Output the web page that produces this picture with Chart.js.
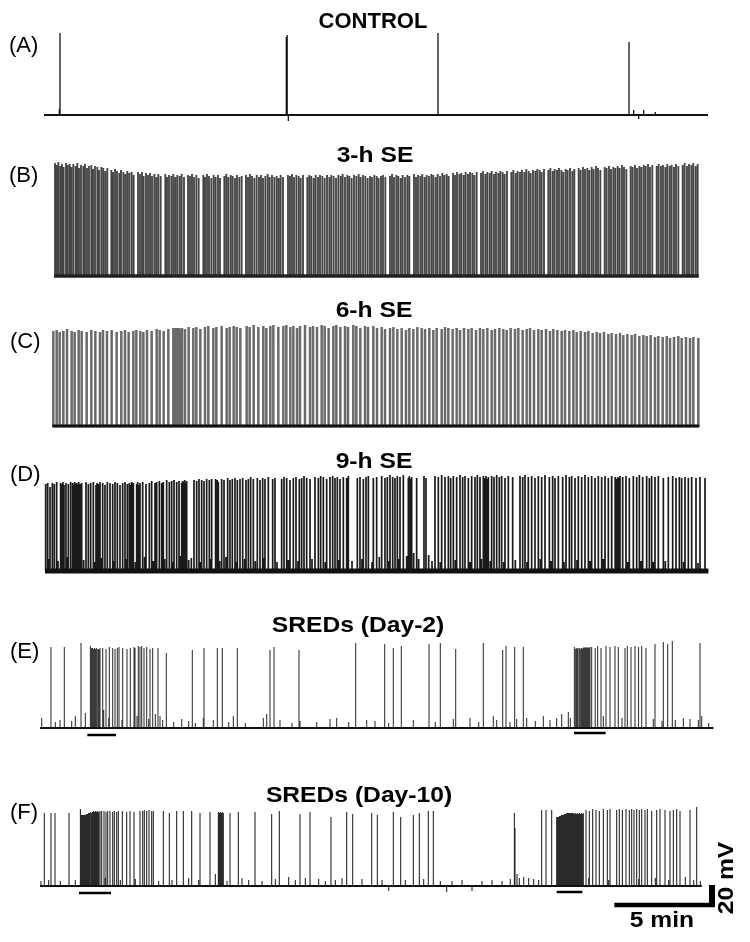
<!DOCTYPE html>
<html><head><meta charset="utf-8">
<script src="https://cdn.jsdelivr.net/npm/chart.js@4.4.1/dist/chart.umd.min.js"></script>
<style>
html,body{margin:0;padding:0;background:#fff;}
#fig{position:relative;width:750px;height:942px;overflow:hidden;background:#fff;}
#fig canvas{position:absolute;left:0;}
.t{position:absolute;font-family:"Liberation Sans",Arial,sans-serif;font-weight:bold;font-size:22px;line-height:22px;white-space:nowrap;color:#000;}
.l{position:absolute;font-family:"Liberation Sans",Arial,sans-serif;font-size:22px;line-height:22px;white-space:nowrap;color:#000;}
</style></head><body><div id="fig"></div>
<script>
// ===== DATA (time in s, potential in mV relative to baseline) =====
const titles = ["CONTROL","3-h SE","6-h SE","9-h SE","SREDs (Day-2)","SREDs (Day-10)"];
const panelLabels = ["(A)","(B)","(C)","(D)","(E)","(F)"];
const scaleBarValues = [5, 20];           // 5 min, 20 mV
const scaleBarTexts = ["5 min","20 mV"];

const spanA = [6, 1998];
const spikesA = [[52,6],[54,82],[733,78],[735,80],[736,30],[739,-6],[1188,82],[1761,73],[1775,5],[1790,-4],[1805,5],[1840,3]];

const spanB = [36, 1970];
const spikesB = [[39,113],[44,111],[49,114],[55,110],[60,112],[65,109],[72,113],[77,111],[83,112],[88,109],[94,112],[101,110],[106,113],[111,108],[117,111],[124,110],[129,112],[135,108],[141,110],[148,111],[153,107],[159,110],[166,109],[171,106],[178,109],[184,108],[190,105],[196,108],[208,106],[213,104],[219,107],[225,105],[232,103],[237,106],[244,104],[250,102],[256,105],[262,103],[269,104],[275,101],[288,104],[294,102],[300,104],[305,100],[312,103],[318,101],[324,103],[330,100],[337,102],[343,99],[349,102],[356,100],[370,102],[375,99],[381,101],[388,100],[394,102],[400,99],[406,101],[413,100],[419,102],[426,99],[438,101],[444,100],[450,102],[456,99],[463,101],[470,98],[484,101],[489,99],[495,102],[501,100],[508,98],[515,101],[521,99],[528,101],[534,98],[547,100],[553,102],[559,99],[566,101],[572,100],[579,98],[585,101],[592,99],[599,100],[612,101],[618,99],[624,102],[630,100],[637,98],[644,101],[651,99],[657,101],[663,98],[670,100],[677,102],[683,99],[690,101],[697,99],[704,100],[710,98],[716,101],[723,99],[738,101],[744,100],[750,102],[756,99],[763,101],[770,100],[776,98],[783,101],[796,99],[802,101],[808,100],[815,98],[821,101],[828,99],[834,101],[841,100],[848,98],[855,101],[862,99],[868,101],[875,100],[882,98],[889,101],[896,100],[902,102],[909,99],[916,101],[922,100],[929,98],[936,101],[943,100],[950,102],[956,99],[963,101],[970,100],[977,98],[984,100],[990,99],[997,101],[1004,100],[1010,98],[1017,100],[1023,101],[1030,99],[1044,100],[1050,102],[1056,99],[1063,101],[1069,100],[1076,98],[1082,101],[1089,99],[1096,101],[1102,100],[1116,102],[1122,99],[1128,101],[1135,100],[1141,102],[1148,99],[1154,101],[1161,100],[1168,102],[1174,101],[1181,99],[1187,102],[1194,100],[1201,103],[1207,101],[1214,102],[1220,100],[1233,103],[1239,101],[1245,104],[1252,102],[1258,103],[1265,101],[1271,104],[1278,102],[1284,104],[1291,103],[1297,101],[1304,104],[1317,103],[1323,105],[1330,102],[1336,104],[1343,103],[1349,105],[1356,102],[1362,104],[1369,103],[1375,105],[1382,104],[1388,102],[1395,105],[1408,104],[1414,106],[1421,103],[1427,105],[1434,104],[1440,106],[1447,104],[1453,107],[1460,105],[1466,103],[1473,106],[1480,105],[1486,107],[1493,106],[1499,104],[1506,107],[1519,106],[1525,108],[1532,105],[1538,107],[1545,106],[1551,108],[1558,106],[1564,104],[1571,107],[1577,106],[1584,108],[1591,105],[1597,107],[1610,108],[1616,106],[1623,109],[1629,107],[1636,108],[1642,106],[1649,109],[1655,107],[1662,110],[1668,108],[1675,106],[1688,109],[1694,108],[1701,110],[1707,107],[1714,109],[1720,108],[1727,110],[1733,108],[1740,111],[1746,109],[1753,107],[1766,110],[1772,109],[1779,111],[1785,108],[1792,110],[1798,109],[1805,111],[1811,110],[1818,112],[1824,109],[1831,111],[1844,110],[1850,112],[1857,110],[1863,111],[1870,109],[1876,112],[1883,110],[1889,111],[1896,109],[1902,112],[1909,110],[1922,111],[1928,113],[1935,110],[1941,112],[1948,111],[1954,113],[1961,110],[1967,112]];

const spanC = [31, 1972];
const spikesC = [[34,95],[44,96],[53,94],[64,95],[75,97],[89,95],[98,94],[110,96],[119,95],[134,94],[148,96],[160,95],[174,94],[183,96],[195,95],[209,96],[224,94],[238,95],[249,96],[260,94],[274,95],[283,96],[295,95],[304,94],[315,96],[329,95],[344,97],[353,96],[365,95],[379,97],[394,98],[396,97],[399,98],[402,96],[405,98],[408,97],[411,98],[414,96],[417,97],[420,98],[429,97],[440,99],[454,98],[463,99],[475,97],[489,99],[499,100],[514,98],[523,99],[539,100],[554,98],[563,99],[575,100],[584,99],[595,98],[614,100],[623,99],[635,101],[649,99],[664,100],[673,98],[685,100],[694,101],[709,99],[724,100],[733,101],[745,99],[754,100],[765,98],[774,100],[789,101],[804,99],[813,100],[825,99],[839,101],[848,100],[860,98],[874,100],[883,101],[895,99],[909,100],[918,99],[934,101],[943,100],[955,98],[969,100],[978,99],[994,100],[1005,98],[1019,99],[1029,97],[1044,98],[1054,99],[1066,97],[1079,98],[1092,96],[1102,98],[1114,97],[1126,99],[1139,98],[1149,97],[1162,98],[1174,96],[1184,98],[1199,97],[1209,99],[1219,98],[1232,97],[1244,98],[1254,96],[1266,98],[1279,97],[1289,98],[1302,96],[1314,98],[1324,97],[1336,98],[1349,96],[1359,97],[1372,98],[1384,97],[1394,96],[1406,98],[1419,97],[1429,98],[1442,96],[1454,97],[1464,98],[1476,96],[1489,97],[1499,96],[1512,97],[1524,95],[1534,97],[1546,96],[1559,95],[1569,96],[1582,95],[1594,96],[1604,94],[1616,95],[1629,94],[1639,95],[1652,93],[1664,94],[1674,93],[1686,94],[1699,92],[1709,93],[1722,92],[1734,93],[1744,91],[1756,92],[1769,91],[1779,92],[1792,90],[1804,91],[1814,90],[1826,91],[1839,89],[1849,90],[1862,89],[1874,90],[1884,88],[1896,89],[1909,90],[1919,88],[1932,89],[1944,88],[1954,89],[1969,88]];

const spanD = [9, 1999];
const spikesD = [[11,87],[17,88],[24,84],[31,88],[37,87],[44,89],[54,86],[57,88],[60,87],[63,89],[66,86],[72,88],[79,87],[86,89],[92,88],[95,86],[98,89],[101,87],[104,88],[107,86],[110,89],[114,87],[119,88],[132,89],[139,87],[146,88],[154,89],[162,86],[165,88],[169,87],[174,89],[182,88],[189,86],[196,89],[204,88],[212,87],[219,89],[226,88],[234,86],[242,88],[249,89],[256,87],[262,88],[265,86],[269,89],[274,88],[284,87],[287,89],[290,86],[294,88],[302,89],[312,87],[322,88],[329,90],[339,88],[344,89],[352,90],[359,88],[364,89],[374,91],[382,89],[389,90],[396,91],[404,89],[411,90],[419,88],[422,90],[425,89],[428,91],[431,88],[434,90],[456,91],[464,90],[471,92],[479,91],[486,90],[494,92],[502,91],[509,92],[519,90],[522,92],[526,91],[529,89],[539,92],[546,91],[557,93],[564,91],[571,92],[579,93],[586,91],[594,92],[602,93],[612,91],[619,92],[626,94],[634,92],[646,93],[654,91],[662,93],[669,92],[679,94],[692,92],[699,93],[719,92],[726,94],[734,93],[744,91],[754,93],[762,94],[772,92],[779,93],[786,95],[794,93],[804,92],[819,94],[829,93],[836,95],[844,94],[854,92],[864,94],[872,95],[879,93],[886,94],[894,92],[904,94],[914,93],[919,95],[946,93],[954,94],[964,92],[972,94],[979,95],[994,93],[1004,94],[1019,95],[1029,93],[1036,94],[1044,96],[1052,94],[1059,93],[1066,95],[1074,94],[1084,96],[1099,93],[1102,95],[1105,92],[1109,94],[1124,93],[1146,95],[1152,93],[1179,95],[1189,94],[1199,96],[1209,94],[1219,95],[1226,93],[1234,95],[1244,94],[1254,96],[1262,94],[1269,95],[1279,93],[1289,95],[1299,94],[1306,96],[1314,94],[1324,95],[1329,93],[1332,95],[1335,92],[1339,94],[1349,95],[1356,94],[1364,96],[1372,94],[1379,95],[1389,93],[1399,95],[1412,94],[1434,95],[1442,94],[1449,96],[1459,94],[1469,95],[1479,93],[1489,95],[1499,94],[1509,96],[1522,94],[1532,95],[1539,93],[1549,95],[1562,94],[1572,96],[1582,94],[1589,95],[1599,93],[1609,95],[1619,94],[1629,96],[1639,94],[1649,95],[1659,93],[1669,95],[1679,94],[1689,95],[1699,93],[1709,95],[1719,94],[1724,92],[1727,94],[1731,93],[1734,95],[1742,94],[1752,95],[1762,93],[1774,95],[1784,94],[1792,96],[1802,94],[1814,95],[1822,93],[1829,95],[1839,94],[1849,95],[1864,93],[1879,94],[1892,95],[1902,93],[1912,94],[1919,93],[1929,94],[1939,93],[1949,94],[1962,93],[1974,94],[1989,93]];
const smallD = [[20,12],[48,10],[76,14],[125,11],[158,9],[178,13],[215,10],[252,12],[280,9],[308,14],[334,10],[368,12],[392,9],[416,15],[440,11],[448,13],[475,9],[505,12],[533,10],[552,14],[583,9],[608,12],[640,10],[666,13],[705,9],[739,11],[768,10],[810,12],[850,9],[890,11],[930,10],[960,12],[990,9],[1012,14],[1040,10],[1070,12],[1094,15],[1115,18],[1130,12],[1160,16],[1170,10],[1195,9],[1240,11],[1284,9],[1318,12],[1345,10],[1385,9],[1420,11],[1455,9],[1495,12],[1527,10],[1566,9],[1605,11],[1644,10],[1684,12],[1720,15],[1757,9],[1797,10],[1834,9],[1870,10],[1925,9],[1968,8]];

const spanE = [-6, 2014];
const spikesE = [[27,81],[67,81],[117,85],[144,82],[146,79],[148,80],[150,78],[152,80],[154,79],[156,78],[158,80],[160,79],[162,78],[164,80],[166,79],[168,78],[170,79],[172,78],[174,80],[182,80],[192,79],[202,81],[212,80],[219,79],[226,80],[231,81],[242,80],[255,79],[265,80],[276,81],[279,80],[289,82],[294,81],[299,82],[306,80],[314,81],[324,79],[332,80],[348,80],[373,75],[451,78],[486,80],[526,80],[541,80],[586,80],[684,78],[696,81],[771,78],[941,85],[1028,84],[1054,80],[1078,82],[1161,84],[1195,85],[1241,79],[1324,85],[1382,78],[1392,82],[1418,81],[1444,81],[1596,81],[1598,80],[1601,79],[1603,80],[1606,79],[1608,80],[1611,79],[1613,80],[1616,79],[1618,80],[1621,79],[1623,80],[1626,81],[1629,80],[1632,81],[1635,80],[1638,81],[1641,80],[1644,81],[1649,81],[1659,80],[1667,82],[1677,80],[1692,82],[1704,81],[1719,82],[1729,81],[1749,80],[1756,82],[1767,81],[1779,82],[1789,81],[1799,82],[1812,80],[1839,84],[1864,86],[1877,84],[1891,87],[1974,85]];
const smallE = [[-1,10],[40,6],[54,8],[89,7],[100,12],[130,15],[185,18],[200,10],[240,8],[285,12],[320,9],[340,14],[354,12],[362,8],[395,6],[419,9],[440,7],[460,5],[484,10],[514,8],[560,6],[574,12],[610,5],[664,10],[674,14],[714,8],[750,5],[774,7],[824,6],[864,9],[884,10],[920,6],[974,8],[999,7],[1040,5],[1114,8],[1180,6],[1234,9],[1284,10],[1310,6],[1354,12],[1364,8],[1404,6],[1424,9],[1454,10],[1480,7],[1504,12],[1524,8],[1544,10],[1559,14],[1579,16],[1585,10],[1660,15],[1684,12],[1740,10],[1790,8],[1834,9],[1860,7],[1900,8],[1924,10],[1944,9],[1969,8],[1979,12],[2000,5]];
const eventsE = [[136,222],[1596,1691]];

const spanF = [-6, 1979];
const spikesF = [[7,73],[27,73],[39,73],[81,73],[114,77],[116,71],[117.5,70],[119,71],[120.5,70],[122,71],[123.5,70],[125,71],[126.5,70],[128,71],[129.5,70],[131,71],[132.5,72],[134,71],[135.5,72],[137,71],[138.5,72],[140,73],[141.5,72],[143,73],[146,74],[149,73],[152,74],[155,75],[158,74],[161,75],[164,74],[167,75],[170,74],[174,75],[179,75],[186,75],[192,74],[197,75],[204,75],[212,74],[217,75],[224,74],[229,75],[241,75],[254,74],[264,75],[276,74],[294,75],[302,75],[307,76],[314,75],[321,76],[329,75],[334,75],[364,75],[382,73],[404,75],[424,75],[449,75],[474,73],[504,74],[529,74],[532,73],[535,74],[538,73],[541,74],[544,73],[564,73],[589,74],[639,74],[689,72],[712,75],[774,72],[804,74],[867,69],[914,74],[932,72],[989,73],[1006,71],[1054,74],[1076,69],[1114,71],[1132,73],[1159,75],[1174,75],[1416,72],[1417,73],[1418,70],[1419,58],[1499,76],[1512,76],[1529,76],[1544,69],[1545.5,68],[1547,69],[1548.5,68],[1550,69],[1551.5,70],[1553,69],[1554.5,70],[1556,69],[1557.5,70],[1559,71],[1560.5,70],[1562,71],[1563.5,70],[1565,71],[1566.5,72],[1568,71],[1569.5,72],[1571,71],[1572.5,72],[1574,73],[1575.5,72],[1577,73],[1578.5,72],[1580,73],[1581.5,73],[1583,72],[1584.5,73],[1586,73],[1587.5,72],[1589,73],[1590.5,73],[1592,72],[1594,73],[1597,72],[1600,73],[1603,72],[1606,73],[1609,72],[1612,73],[1615,72],[1618,73],[1621,72],[1624,73],[1632,76],[1642,75],[1652,77],[1662,76],[1672,75],[1684,77],[1696,76],[1704,77],[1724,76],[1732,77],[1742,76],[1752,77],[1762,76],[1769,77],[1776,76],[1784,77],[1792,76],[1799,77],[1809,76],[1816,77],[1829,75],[1844,76],[1854,77],[1869,76],[1884,75],[1894,76],[1904,77],[1914,75],[1944,76],[1964,79]];
const smallF = [[-3,5],[20,6],[55,5],[100,6],[190,8],[235,6],[280,7],[350,5],[390,6],[440,8],[470,6],[520,12],[555,5],[600,8],[620,6],[660,5],[700,7],[740,9],[760,6],[790,8],[830,7],[850,5],[880,6],[900,8],[960,7],[1020,6],[1040,-5],[1090,6],[1145,7],[1195,5],[1214,-6],[1230,5],[1260,6],[1290,-5],[1320,5],[1350,6],[1380,5],[1405,7],[1425,12],[1432,8],[1445,9],[1460,8],[1475,7],[1490,6],[1640,8],[1700,6],[1740,9],[1790,7],[1840,8],[1880,6],[1930,9],[1955,6],[1975,5]];
const eventsF = [[111,207],[1544,1621]];

// ===== LAYOUT / STYLE =====
const X_MIN = -126, X_MAX = 2124;   // seconds across the 750px page
const panels = [
  {span:spanA, spikes:[spikesA], top:0,   h:140, base:115, color:'#151515', w:1.3, bw:2,   bc:'#111'},
  {span:spanB, spikes:[spikesB], top:150, h:140, base:276, color:'#454545', w:1.85, bw:3.5, bc:'#222'},
  {span:spanC, spikes:[spikesC], top:295, h:145, base:426, color:'#6a6a6a', w:2.5, bw:3,   bc:'#111'},
  {span:spanD, spikes:[spikesD, smallD], top:450, h:135, base:571, color:'#1a1a1a', w:1.7, bw:5, bc:'#111'},
  {span:spanE, spikes:[spikesE, smallE], top:610, h:135, base:728, color:'#3a3a3a', w:1.1, bw:2.2, bc:'#111', events:eventsE, evY:[-7,-5]},
  {span:spanF, spikes:[spikesF, smallF], top:770, h:150, base:886, color:'#2a2a2a', w:1.1, bw:2.2, bc:'#111', events:eventsF, evY:[-7,-6], scale:true}
];
const titlePos = [[373,21],[375,155],[374,310],[374,461],[358,625],[359,795]];
const titleStretch = [1.0, 1.12, 1.12, 1.12, 1.12, 1.12];
const labelPos = [[9,45],[9,175],[10,341],[10,474],[10,651],[10,812]];

const fig = document.getElementById('fig');

function spikeTrace(lists, span){
  const all = [].concat(...lists).slice().sort((a,b)=>a[0]-b[0]);
  const pts = [{x:span[0], y:0}];
  for (const [t,a] of all){ pts.push({x:t,y:0},{x:t,y:a},{x:t,y:0}); }
  pts.push({x:span[1], y:0});
  return pts;
}

panels.forEach((p, i) => {
  const c = document.createElement('canvas');
  c.width = 750; c.height = p.h;
  c.style.top = p.top + 'px'; c.style.width = '750px'; c.style.height = p.h + 'px';
  fig.appendChild(c);
  const ymax = p.base - p.top, ymin = ymax - p.h;
  const ds = [];
  ds.push({data:[{x:p.span[0],y:0},{x:p.span[1],y:0}], borderColor:p.bc, borderWidth:p.bw});
  ds.push({data:spikeTrace(p.spikes, p.span), borderColor:p.color, borderWidth:p.w, borderJoinStyle:'bevel'});
  if (p.events){
    p.events.forEach((ev, k) => ds.push({data:[{x:ev[0],y:p.evY[k]},{x:ev[1],y:p.evY[k]}], borderColor:'#000', borderWidth:2.5, borderCapStyle:'butt'}));
  }
  if (p.scale){
    const end = 2017, lev = -19;
    const tLen = scaleBarValues[0]*60, vLen = scaleBarValues[1];
    ds.push({data:[{x:end-tLen,y:lev},{x:end,y:lev}], borderColor:'#000', borderWidth:4.5, borderCapStyle:'butt'});
    ds.push({data:[{x:end-7,y:lev-2},{x:end-7,y:lev-2+vLen+2}], borderColor:'#000', borderWidth:6, borderCapStyle:'butt'});
  }
  new Chart(c, {
    type:'line',
    data:{datasets:ds},
    options:{
      responsive:false, animation:false, events:[], parsing:false,
      layout:{padding:0},
      scales:{x:{type:'linear', min:X_MIN, max:X_MAX, display:false}, y:{type:'linear', min:ymin, max:ymax, display:false}},
      plugins:{legend:{display:false}, tooltip:{enabled:false}},
      elements:{point:{radius:0}, line:{tension:0, fill:false}}
    }
  });
});

function addText(txt, x, y, cls, tf){
  const d = document.createElement('div');
  d.className = cls; d.textContent = txt;
  d.style.left = x + 'px'; d.style.top = y + 'px';
  d.style.transform = tf;
  fig.appendChild(d);
}
titles.forEach((t,i)=> addText(t, titlePos[i][0], titlePos[i][1], 't', 'translate(-50%,-50%) scaleX(' + titleStretch[i] + ')'));
panelLabels.forEach((t,i)=> addText(t, labelPos[i][0], labelPos[i][1], 'l', 'translate(0,-50%)'));
addText(scaleBarTexts[0], 662, 920, 't', 'translate(-50%,-50%) scaleX(1.12)');
addText(scaleBarTexts[1], 726, 878, 't', 'translate(-50%,-50%) rotate(-90deg) scaleX(1.12)');
</script>
</body></html>
